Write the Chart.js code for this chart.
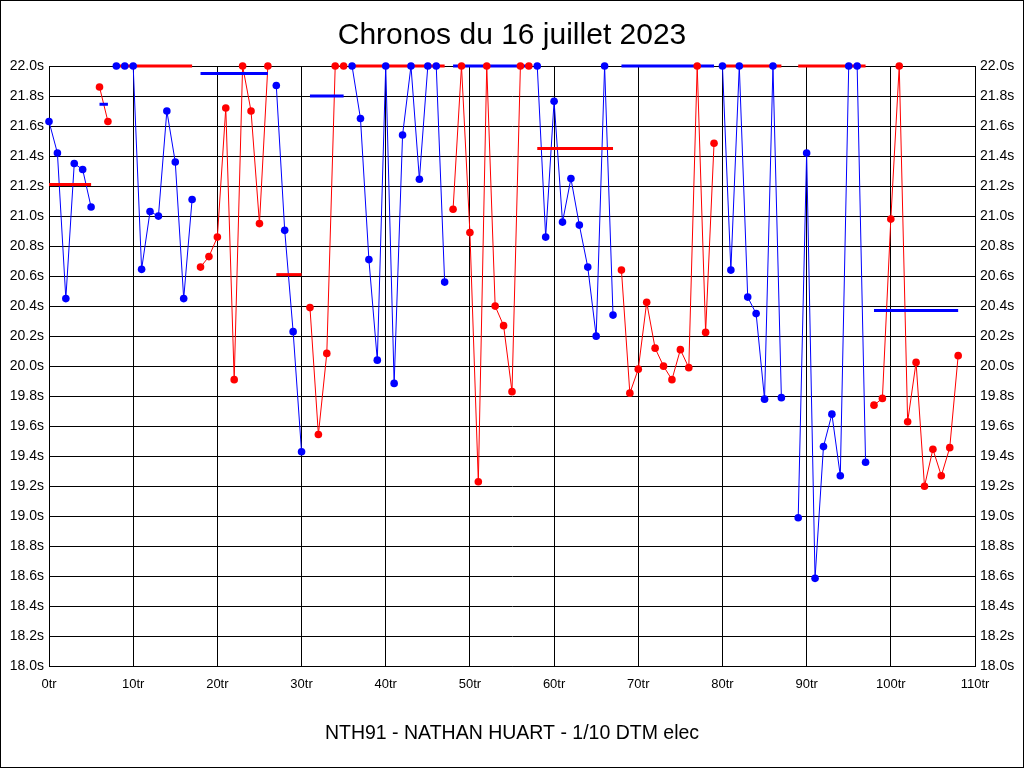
<!DOCTYPE html>
<html>
<head>
<meta charset="utf-8">
<script src="https://cdn.jsdelivr.net/npm/chart.js@4.4.0/dist/chart.umd.min.js"></script>
<style>
  html, body { margin: 0; padding: 0; background: #fff; }
  #wrap { width: 1024px; height: 768px; }
</style>
</head>
<body>
<div id="wrap"><canvas id="c" width="1024" height="768"></canvas></div>
<script>
// Lap times (seconds), index = lap number; null = no lap recorded
const lapTimes = [
  21.63, 21.42, 20.45, 21.35, 21.31, 21.06, 21.86, 21.63, 22.0, 22.0,
  22.0, 20.645, 21.03, 21.0, 21.70, 21.36, 20.45, 21.11, 20.66, 20.73,
  20.86, 21.72, 19.91, 22.0, 21.70, 20.95, 22.0, 21.87, 20.905, 20.23,
  19.43, 20.39, 19.545, 20.085, 22.0, 22.0, 22.0, 21.65, 20.71, 20.04,
  22.0, 19.885, 21.54, 22.0, 21.245, 22.0, 22.0, 20.56, 21.045, 22.0,
  20.89, 19.23, 22.0, 20.40, 20.27, 19.83, 22.0, 22.0, 22.0, 20.86,
  21.765, 20.96, 21.25, 20.94, 20.66, 20.20, 22.0, 20.34, 20.64, 19.82,
  19.98, 20.425, 20.12, 20.0, 19.91, 20.11, 19.99, 22.0, 20.225, 21.485,
  22.0, 20.64, 22.0, 20.46, 20.35, 19.78, 22.0, 19.79, null, 18.99,
  21.42, 18.586, 19.464, 19.68, 19.27, 22.0, 22.0, 19.36, 19.74, 19.785,
  20.98, 22.0, 19.63, 20.025, 19.20, 19.446, 19.27, 19.457, 20.07
];

// Stints
const stintFirst = [0, 6, 8, 18, 27, 31, 36, 48, 58, 68, 80, 89, 98];
const stintLast  = [5, 7, 17, 26, 30, 35, 47, 57, 67, 79, 87, 97, 108];
const stintColor = ['blue','red','blue','red','blue','red','blue','red','blue','red','blue','blue','red'];
const stintAvg   = [21.21, 21.745, 22.0, 21.95, 20.61, 21.80, 22.0, 22.0, 21.45, 22.0, 22.0, 22.0, 20.37];

// Axis ticks
const xTickSuffix = 'tr';
const yTickSuffix = 's';
const xMin = 0, xMax = 110, xStep = 10;
const yMin = 18, yMax = 22, yStep = 0.2;

const titleText = 'Chronos du 16 juillet 2023';
const subtitleText = 'NTH91 - NATHAN HUART - 1/10 DTM elec';

const COLORS = { blue: '#0000ff', red: '#ff0000' };
const OPP = { blue: 'red', red: 'blue' };
const FONT = '"Liberation Sans", Arial, Helvetica, sans-serif';

const datasets = [];
stintFirst.forEach((f, i) => {
  const pts = [];
  for (let l = f; l <= stintLast[i]; l++) {
    if (lapTimes[l] !== null) pts.push({ x: l, y: lapTimes[l] });
  }
  datasets.push({
    data: pts, borderColor: COLORS[stintColor[i]], borderWidth: 1,
    pointRadius: 0, tension: 0, clip: false, order: 2
  });
  datasets.push({
    data: [{ x: f, y: stintAvg[i] }, { x: stintLast[i], y: stintAvg[i] }],
    borderColor: COLORS[OPP[stintColor[i]]], borderWidth: 3, borderCapStyle: 'butt',
    pointRadius: 0, clip: false, order: 1
  });
});
['blue', 'red'].forEach(c => {
  const pts = [];
  stintFirst.forEach((f, i) => {
    if (stintColor[i] !== c) return;
    for (let l = f; l <= stintLast[i]; l++) {
      if (lapTimes[l] !== null) pts.push({ x: l, y: lapTimes[l] });
    }
  });
  datasets.push({
    data: pts, showLine: false, pointRadius: 3.8, pointBorderWidth: 0,
    pointBackgroundColor: COLORS[c], pointBorderColor: COLORS[c],
    clip: false, order: 0
  });
});

const frame = {
  id: 'frame',
  beforeDraw(chart) {
    const ctx = chart.ctx;
    ctx.save();
    ctx.fillStyle = '#fff';
    ctx.fillRect(0, 0, chart.width, chart.height);
    ctx.restore();
  },
  afterDraw(chart) {
    const ctx = chart.ctx;
    ctx.save();
    ctx.strokeStyle = '#000';
    ctx.lineWidth = 1;
    ctx.strokeRect(0.5, 0.5, chart.width - 1, chart.height - 1);
    ctx.restore();
  }
};

new Chart(document.getElementById('c'), {
  type: 'line',
  data: { datasets },
  plugins: [frame],
  options: {
    responsive: false,
    animation: false,
    events: [],
    layout: { padding: 0 },
    plugins: {
      legend: { display: false },
      tooltip: { enabled: false },
      title: {
        display: true, text: titleText, color: '#000',
        font: { family: FONT, size: 30, weight: 'normal' },
        padding: { top: 18, bottom: 12 }
      },
      subtitle: {
        display: true, text: subtitleText, position: 'bottom', color: '#000',
        font: { family: FONT, size: 19.5, weight: 'normal' },
        padding: { top: 25.3, bottom: 23 }
      }
    },
    scales: {
      x: {
        type: 'linear', min: xMin, max: xMax,
        afterFit: s => { s.height = 30; },
        ticks: {
          stepSize: xStep, color: '#000', padding: 10,
          font: { family: FONT, size: 13 },
          callback: v => v + xTickSuffix
        },
        grid: { color: '#000', lineWidth: 1, drawTicks: false },
        border: { color: '#000', width: 1 }
      },
      y: {
        type: 'linear', position: 'left', min: yMin, max: yMax,
        afterFit: s => { s.width = 49; },
        ticks: {
          stepSize: yStep, color: '#000', padding: 5,
          font: { family: FONT, size: 14 },
          callback: v => v.toFixed(1) + yTickSuffix
        },
        grid: { color: '#000', lineWidth: 1, drawTicks: false },
        border: { color: '#000', width: 1 }
      },
      y2: {
        type: 'linear', position: 'right', min: yMin, max: yMax,
        afterFit: s => { s.width = 49; },
        ticks: {
          stepSize: yStep, color: '#000', padding: 5,
          font: { family: FONT, size: 14 },
          callback: v => v.toFixed(1) + yTickSuffix
        },
        grid: { drawOnChartArea: false, drawTicks: false },
        border: { color: '#000', width: 1 }
      }
    }
  }
});
</script>
</body>
</html>
